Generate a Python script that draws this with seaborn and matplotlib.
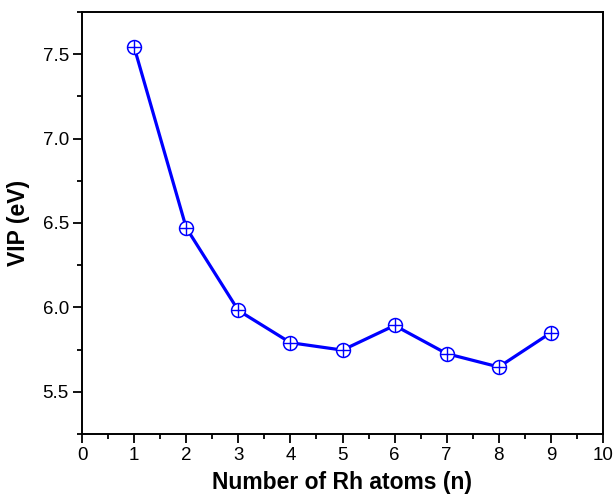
import matplotlib
matplotlib.use("Agg")
import matplotlib.pyplot as plt
import seaborn as sns
import pandas as pd
from matplotlib.ticker import MultipleLocator, FormatStrFormatter

# Vertical ionization potential of Rh_n clusters
n_atoms = [1, 2, 3, 4, 5, 6, 7, 8, 9]
vip_ev = [7.543, 6.472, 5.982, 5.791, 5.747, 5.893, 5.726, 5.647, 5.850]

df = pd.DataFrame({"n": n_atoms, "vip": vip_ev})

sns.set_style("ticks")
plt.rcParams["font.family"] = ["Liberation Sans", "DejaVu Sans"]
plt.rcParams["text.color"] = "black"
plt.rcParams["axes.labelcolor"] = "black"
plt.rcParams["xtick.color"] = "black"
plt.rcParams["ytick.color"] = "black"

fig = plt.figure(figsize=(6.14, 4.95), dpi=100)
ax = fig.add_axes([82 / 614, 61 / 495, 521 / 614, 422 / 495])

blue = "#0000ff"
sns.lineplot(data=df, x="n", y="vip", ax=ax, color=blue, linewidth=2.3, zorder=2)
# circle-plus markers: white-filled circle with a cross inside
ax.plot(df["n"], df["vip"], linestyle="none", marker="o", markersize=10,
        markerfacecolor="white", markeredgecolor=blue, markeredgewidth=1.1, zorder=3)
ax.plot(df["n"], df["vip"], linestyle="none", marker="+", markersize=9.5,
        markeredgecolor=blue, markeredgewidth=1.0, zorder=4)

ax.set_xlim(0, 10)
ax.set_ylim(5.25, 7.75)
ax.xaxis.set_major_locator(MultipleLocator(1))
ax.xaxis.set_minor_locator(MultipleLocator(0.5))
ax.yaxis.set_major_locator(MultipleLocator(0.5))
ax.yaxis.set_minor_locator(MultipleLocator(0.25))
ax.yaxis.set_major_formatter(FormatStrFormatter("%.1f"))

for side in ["top", "right", "left", "bottom"]:
    ax.spines[side].set_visible(True)
    ax.spines[side].set_color("black")
    ax.spines[side].set_linewidth(1.4)

ax.tick_params(axis="both", which="major", direction="out", length=6.5, width=1.3,
               labelsize=13.5, colors="black", labelcolor="black", pad=3)
ax.tick_params(axis="both", which="minor", direction="out", length=3.5, width=1.3)
ax.tick_params(top=False, right=False, which="both")

ax.set_xlabel("Number of Rh atoms (n)", fontsize=16.5, fontweight="bold",
              labelpad=5, color="black")
ax.set_ylabel("VIP (eV)", fontsize=16.5, fontweight="bold", labelpad=9, color="black")

fig.savefig("out.png", dpi=100)
